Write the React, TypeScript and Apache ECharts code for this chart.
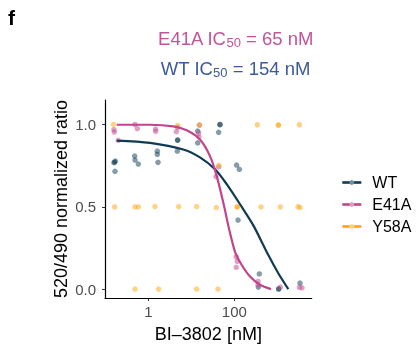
import React, { useEffect, useRef } from "react";
import * as echarts from "echarts";

// Tick labels
const xTickLabels = [1, 100];
const yTickLabels = [0, 0.5, 1.0];

// Measured points (concentration in nM, normalized ratio)
const wtPointConc = [0.165, 0.171, 0.168, 0.159, 0.482, 0.491, 0.586, 1.62, 1.62, 1.68, 4.81, 4.81, 4.73, 14.1, 14.1, 46.4, 46.4, 43.2, 113, 131, 122, 382, 362, 1076, 1076, 3371];
const wtPointRatio = [0.772, 0.778, 0.716, 0.768, 0.808, 0.784, 0.760, 0.838, 0.818, 0.770, 0.904, 0.906, 0.838, 0.960, 0.888, 0.998, 1.0, 0.952, 0.754, 0.728, 0.420, 0.094, 0.014, 0.004, 0.002, 0.038];

const e41aPointConc = [0.159, 0.162, 0.200, 0.491, 0.556, 1.48, 1.48, 4.81, 4.49, 15.4, 14.8, 15.1, 43.2, 37.5, 111, 117, 111, 356, 356, 1178, 3255, 3752];
const e41aPointRatio = [0.968, 0.954, 0.904, 1.0, 0.974, 0.972, 0.958, 0.982, 0.956, 0.996, 0.948, 0.924, 0.742, 0.684, 0.198, 0.170, 0.134, 0.048, 0.028, 0.014, 0.012, 0.010];

const y58aPointConc = [0.154, 4.81, 15.4, 343, 1057, 1070, 3255, 0.165, 0.491, 0.586, 1.43, 5.08, 13.3, 38.2, 117, 117, 417, 1178, 3030, 3371, 0.491, 1.74, 13.3, 41.7, 44.0];
const y58aPointRatio = [1.0, 0.994, 0.996, 0.998, 0.996, 0.996, 0.998, 0.5, 0.5, 0.5, 0.502, 0.502, 0.502, 0.496, 0.5, 0.5, 0.5, 0.5, 0.502, 0.496, 0.002, 0.002, 0.002, 0.002, 0.752];

// Fitted curves
const wtCurveConc = [0.184, 1.10, 6.5, 15.9, 35.6, 66.5, 149, 277, 618, 1054, 1803];
const wtCurveRatio = [0.902, 0.888, 0.848, 0.80, 0.728, 0.638, 0.50, 0.388, 0.208, 0.098, 0.002];
const e41aCurveConc = [0.184, 1.10, 3.81, 7.82, 15.9, 27.2, 38.9, 58.5, 72.4, 104, 149, 232, 396, 713];
const e41aCurveRatio = [0.998, 0.998, 0.988, 0.964, 0.908, 0.808, 0.688, 0.50, 0.388, 0.228, 0.148, 0.078, 0.028, 0.002];

const seriesNames = ["WT", "E41A", "Y58A"];
const ic50Labels = ["E41A", "WT"];
const ic50Values = [65, 154];

const WT_DARK = "#0e3b52";
const E41A_DARK = "#c2448c";
const Y58A_DARK = "#ffa50a";

const toXY = (conc: number[], ratio: number[]) => conc.map((c, i) => [Math.log10(c), ratio[i]]);

export default function App() {
  const ref = useRef<HTMLDivElement>(null);
  useEffect(() => {
    if (!ref.current) return;
    const chart = echarts.init(ref.current, undefined, { renderer: "svg" });
    const font = "'Liberation Sans', Arial, Helvetica, sans-serif";
    const pointSeries = (name: string, data: number[][], color: string) => ({
      type: "scatter",
      name: name + "_pts",
      data,
      symbol: "circle",
      symbolSize: 5.5,
      itemStyle: { color, opacity: 0.5 },
      silent: true,
      z: 2,
    });
    const lineSeries = (name: string, data: number[][], color: string, symColor: string, z: number) => ({
      type: "line",
      name,
      data,
      smooth: 0.3,
      symbol: "circle",
      symbolSize: 5,
      showSymbol: false,
      lineStyle: { color, width: 2.2 },
      itemStyle: { color: symColor },
      silent: true,
      z,
    });
    const rich = {
      a: { fontSize: 18.5, fontFamily: font },
      s: { fontSize: 13, fontFamily: font, padding: [9, 0, 0, 0] },
    };
    chart.setOption({
      animation: false,
      textStyle: { fontFamily: font },
      grid: { left: 105, right: 108.3, top: 100, bottom: 48 },
      xAxis: {
        type: "value",
        min: -1.007,
        max: 3.8,
        splitLine: { show: false },
        axisLine: { onZero: false, lineStyle: { color: "#000", width: 1.2 } },
        axisTick: { customValues: xTickLabels.map((v) => Math.log10(v)), length: 3, lineStyle: { color: "#333" } },
        axisLabel: {
          customValues: xTickLabels.map((v) => Math.log10(v)),
          formatter: (v: number) => String(Math.round(Math.pow(10, v))),
          color: "#4d4d4d",
          fontSize: 15,
          margin: 6,
        },
        name: "BI\u20133802 [nM]",
        nameLocation: "middle",
        nameGap: 27,
        nameTextStyle: { fontSize: 18, color: "#000" },
      },
      yAxis: {
        type: "value",
        min: -0.052,
        max: 1.148,
        splitLine: { show: false },
        axisLine: { show: true, onZero: false, lineStyle: { color: "#000", width: 1.2 } },
        axisTick: { show: true, customValues: yTickLabels, length: 3, lineStyle: { color: "#333" } },
        axisLabel: {
          customValues: yTickLabels,
          formatter: (v: number) => v.toFixed(1),
          color: "#4d4d4d",
          fontSize: 15,
          margin: 9,
        },
        name: "520/490 normalized ratio",
        nameLocation: "middle",
        nameGap: 35.5,
        nameTextStyle: { fontSize: 18, color: "#000" },
      },
      legend: {
        data: seriesNames,
        orient: "vertical",
        left: 341,
        top: 174.5,
        itemWidth: 19,
        itemHeight: 6,
        itemGap: 6,
        padding: 0,
        textStyle: { fontSize: 16, color: "#000", padding: [0, 0, 0, 6] },
        lineStyle: { width: 2.6 },
      },
      graphic: [
        {
          type: "text",
          left: 8,
          top: 7,
          style: { text: "f", fontSize: 21, fontWeight: "bold", fill: "#000", fontFamily: font },
        },
        {
          type: "text",
          x: 235.5,
          y: 38,
          style: {
            text: `{a|${ic50Labels[0]} IC}{s|50}{a| = ${ic50Values[0]} nM}`,
            rich,
            fill: "#c2549a",
            align: "center",
            verticalAlign: "middle",
          },
        },
        {
          type: "text",
          x: 235.5,
          y: 68,
          style: {
            text: `{a|${ic50Labels[1]} IC}{s|50}{a| = ${ic50Values[1]} nM}`,
            rich,
            fill: "#3d5a9a",
            align: "center",
            verticalAlign: "middle",
          },
        },
      ],
      series: [
        pointSeries("WT", toXY(wtPointConc, wtPointRatio), WT_DARK),
        pointSeries("E41A", toXY(e41aPointConc, e41aPointRatio), E41A_DARK),
        pointSeries("Y58A", toXY(y58aPointConc, y58aPointRatio), Y58A_DARK),
        lineSeries("WT", toXY(wtCurveConc, wtCurveRatio), WT_DARK, "#6f8fa0", 3),
        lineSeries("E41A", toXY(e41aCurveConc, e41aCurveRatio), E41A_DARK, "#e09ac5", 4),
        lineSeries("Y58A", [], Y58A_DARK, "#ffd080", 3),
      ],
    });
    return () => chart.dispose();
  }, []);
  return <div ref={ref} style={{ position: "fixed", left: 0, top: 0, width: 420, height: 348 }} />;
}
